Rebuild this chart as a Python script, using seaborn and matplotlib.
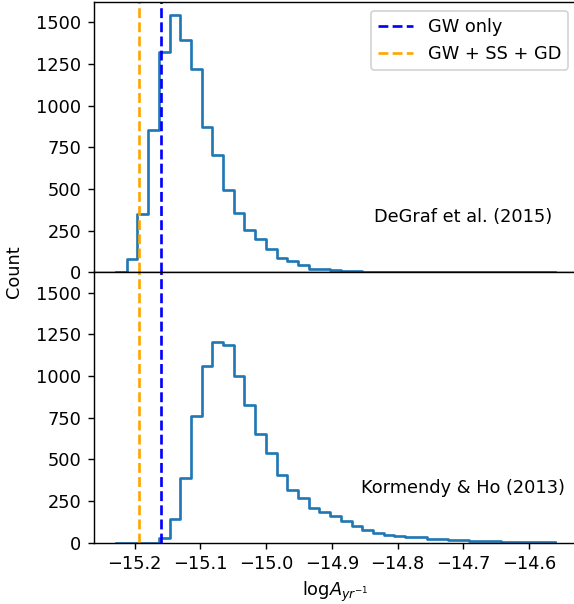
import numpy as np
import pandas as pd
import matplotlib
matplotlib.use('Agg')
import matplotlib.pyplot as plt
import seaborn as sns

# --- histogram data (common bins for both panels) ---
BIN_LO = -15.2285
BIN_HI = -14.5604
N_BINS = 41

counts_degraf = [4, 82, 352, 852, 1324, 1544, 1394, 1218, 874, 702,
                 492, 354, 254, 198, 140, 84, 70, 44, 22, 20,
                 14, 6, 6, 5, 5, 2, 2, 1, 1, 1,
                 2, 2, 1, 0, 1, 0, 1, 0, 0, 0, 1]
counts_kormendy = [0, 0, 0, 0, 26, 142, 386, 760, 1062, 1202,
                   1188, 1002, 826, 652, 540, 408, 316, 270, 210, 186,
                   158, 128, 100, 76, 56, 46, 42, 34, 32, 24,
                   22, 16, 16, 8, 8, 8, 7, 6, 5, 4, 4]

# reference amplitudes
A_GW_ONLY = -15.1598
A_GW_SS_GD = -15.1928

panel_labels = ['DeGraf et al. (2015)', 'Kormendy & Ho (2013)']
line_labels = ['GW only', 'GW + SS + GD']

edges = np.linspace(BIN_LO, BIN_HI, N_BINS + 1)
centers = 0.5 * (edges[:-1] + edges[1:])

df = pd.concat([
    pd.DataFrame({'logA': centers, 'n': counts_degraf, 'model': panel_labels[0]}),
    pd.DataFrame({'logA': centers, 'n': counts_kormendy, 'model': panel_labels[1]}),
])

fig, axes = plt.subplots(2, 1, sharex=True, sharey=True,
                         figsize=(574 / 128, 604 / 128), dpi=128)
fig.subplots_adjust(left=0.1638, right=1.0052, bottom=0.1015, top=0.9967, hspace=0)

for ax, name in zip(axes, panel_labels):
    sub = df[df['model'] == name].reset_index(drop=True)
    sns.histplot(data=sub, x='logA', weights='n', bins=edges.tolist(),
                 element='step', fill=False, color='C0', ax=ax)
    ax.axvline(A_GW_ONLY, color='blue', ls='--', label=line_labels[0])
    ax.axvline(A_GW_SS_GD, color='orange', ls='--', label=line_labels[1])
    ax.text(-14.70, 300, name, ha='center')
    ax.set_ylabel('')
    ax.set_yticks([0, 250, 500, 750, 1000, 1250, 1500])

axes[0].legend(loc='upper right')
axes[1].set_xlabel(r'log$A_{yr^{-1}}$')
fig.text(14.5 / 574, (604 - 271.7) / 604, 'Count', rotation=90, ha='center', va='center')

plt.savefig('out.png', dpi=128)
